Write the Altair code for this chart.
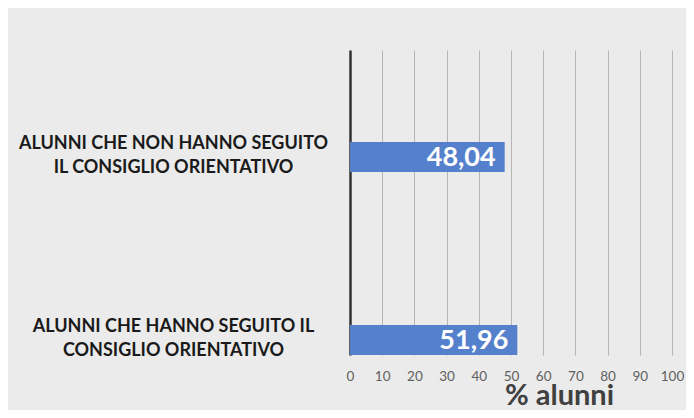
import altair as alt
import pandas as pd

categories = ["ALUNNI CHE NON HANNO SEGUITO\nIL CONSIGLIO ORIENTATIVO",
              "ALUNNI CHE HANNO SEGUITO IL\nCONSIGLIO ORIENTATIVO"]
values = [48.04, 51.96]
x_ticks = [0, 10, 20, 30, 40, 50, 60, 70, 80, 90, 100]

df = pd.DataFrame({"cat": categories, "v": values})

y = alt.Y("cat:N", sort=categories, title=None,
          scale=alt.Scale(paddingInner=0.836, paddingOuter=0.2515, align=1),
          axis=alt.Axis(labelAlign="center", labelPadding=177, labelBaseline="middle",
                        labelExpr="split(datum.label, '\\n')",
                        labelFont="Lato", labelFontWeight="bold", labelFontSize=18,
                        labelColor="#1a1a1a", labelLineHeight=24, labelLimit=400,
                        labelOffset=-13,
                        ticks=False, domainColor="#333333", domainWidth=2.5, grid=False))
x = alt.X("v:Q", scale=alt.Scale(domain=[0, 100], nice=False),
          title="% alunni",
          axis=alt.Axis(values=x_ticks, grid=True, gridColor="#b5b5b5", gridWidth=1,
                        domain=False, ticks=False, labelPadding=14, labelOverlap=False,
                        labelFlush=False,
                        labelFont="Lato", labelFontSize=13.5, labelColor="#606060",
                        titleFont="Lato", titleFontSize=29, titleFontWeight="bold",
                        titleColor="#404040", titleBaseline="alphabetic",
                        titleX=209, titleY=49))

bars = alt.Chart(df).mark_bar(color="#5580cc").encode(x=x, y=y)
text = alt.Chart(df).transform_calculate(
    lbl="replace(format(datum.v, '.2f'), '.', ',')"
).mark_text(align="right", baseline="middle", dx=-9, dy=1, color="white",
            font="Lato", fontWeight="bold", fontSize=27).encode(
    x=x, y=y, text="lbl:N")

chart = (bars + text).properties(
    width=322, height=305,
    autosize=alt.AutoSizeParams(type="none"),
    padding={"left": 342, "top": 42, "right": 14, "bottom": 55},
    background="#ebebeb",
).configure_view(stroke=None)

chart.save("out.html", embed_options={"renderer": "svg", "actions": False})
